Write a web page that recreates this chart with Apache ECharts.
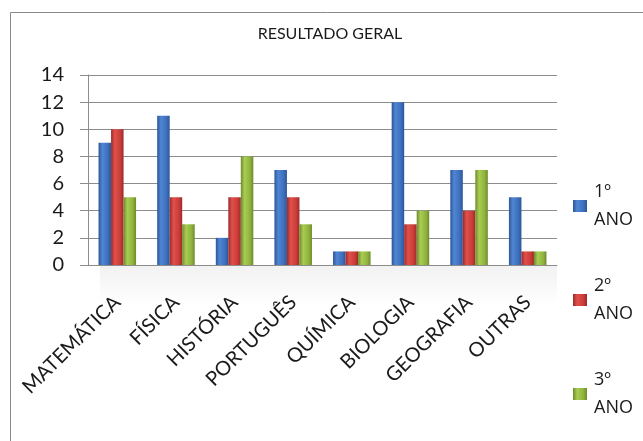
<!DOCTYPE html>
<html>
<head>
<meta charset="utf-8">
<script src="https://cdn.jsdelivr.net/npm/echarts@6/dist/echarts.min.js"></script>
<style>
  html, body { margin: 0; padding: 0; background: #fff; }
  #chart { width: 643px; height: 441px; }
</style>
</head>
<body>
<div id="chart"></div>
<script>
const categories = ['MATEMÁTICA', 'FÍSICA', 'HISTÓRIA', 'PORTUGUÊS', 'QUÍMICA', 'BIOLOGIA', 'GEOGRAFIA', 'OUTRAS']
const seriesNames = ['1º\nANO', '2º\nANO', '3º\nANO']
const ano1 = [9, 11, 2, 7, 1, 12, 7, 5]
const ano2 = [10, 5, 5, 5, 1, 3, 4, 1]
const ano3 = [5, 3, 8, 3, 1, 4, 7, 1]

const font = 'Lato, "Open Sans", sans-serif'

// excel-like shaded bars: dark edges, light in the middle
function shade(dark, light, mid) {
  return new echarts.graphic.LinearGradient(0, 0, 1, 0, [
    { offset: 0, color: dark },
    { offset: 0.3, color: light },
    { offset: 0.75, color: mid },
    { offset: 1, color: dark }
  ])
}
const blue = shade('#2b5597', '#4f86d3', '#3d6fbd')
const red = shade('#9b2a28', '#e0504c', '#c93c38')
const green = shade('#6d8a2c', '#a9cc52', '#8fb23d')

const chart = echarts.init(document.getElementById('chart'))

function bar(name, data, color) {
  return {
    name: name,
    type: 'bar',
    data: data,
    barGap: '0%',
    barCategoryGap: '36%',
    itemStyle: { color: color },
    emphasis: { disabled: true }
  }
}

chart.setOption({
  animation: false,
  textStyle: { fontFamily: font },
  title: {
    text: 'RESULTADO GERAL',
    left: 325,
    top: 21,
    textAlign: 'center',
    textStyle: { fontFamily: font, fontSize: 16, fontWeight: 'normal', color: '#1a1a1a' }
  },
  graphic: [
    {
      type: 'rect',
      shape: { x: 10.5, y: 12.5, width: 700, height: 500 },
      style: { fill: 'none', stroke: '#8a8a8a', lineWidth: 1 },
      silent: true
    },
    {
      type: 'rect',
      shape: { x: 100, y: 266, width: 457, height: 40 },
      style: {
        fill: new echarts.graphic.LinearGradient(0, 0, 0, 1, [
          { offset: 0, color: 'rgba(0,0,0,0.05)' },
          { offset: 1, color: 'rgba(0,0,0,0)' }
        ])
      },
      silent: true,
      z: -1
    }
  ],
  legend: {
    orient: 'vertical',
    left: 573,
    top: 164,
    height: 320,
    padding: 0,
    itemWidth: 14,
    itemHeight: 12,
    itemGap: 10,
    icon: 'rect',
    selectedMode: false,
    data: [
      { name: seriesNames[0], itemStyle: { color: blue } },
      { name: seriesNames[1], itemStyle: { color: red } },
      { name: seriesNames[2], itemStyle: { color: green } }
    ],
    textStyle: {
      fontFamily: '"Open Sans", Lato, sans-serif',
      fontSize: 18,
      lineHeight: 28,
      color: '#1a1a1a',
      padding: [28, 0, 0, 2]
    }
  },
  grid: {
    left: 88,
    right: 86,
    top: 75,
    bottom: 176
  },
  xAxis: {
    type: 'category',
    data: categories,
    axisLine: { lineStyle: { color: '#8c8c8c', width: 1 } },
    axisTick: { show: false },
    axisLabel: {
      rotate: 45,
      margin: 34,
      interval: 0,
      fontFamily: font,
      fontSize: 20,
      color: '#1a1a1a'
    }
  },
  yAxis: {
    type: 'value',
    min: 0,
    max: 14,
    interval: 2,
    axisLine: { show: true, lineStyle: { color: '#8c8c8c' } },
    axisTick: { show: true, length: 8, lineStyle: { color: '#8c8c8c' } },
    splitLine: { lineStyle: { color: '#8c8c8c', width: 1 } },
    axisLabel: {
      margin: 24,
      fontFamily: font,
      fontSize: 20,
      color: '#1a1a1a'
    }
  },
  series: [
    bar(seriesNames[0], ano1, blue),
    bar(seriesNames[1], ano2, red),
    bar(seriesNames[2], ano3, green)
  ]
})
</script>
</body>
</html>
